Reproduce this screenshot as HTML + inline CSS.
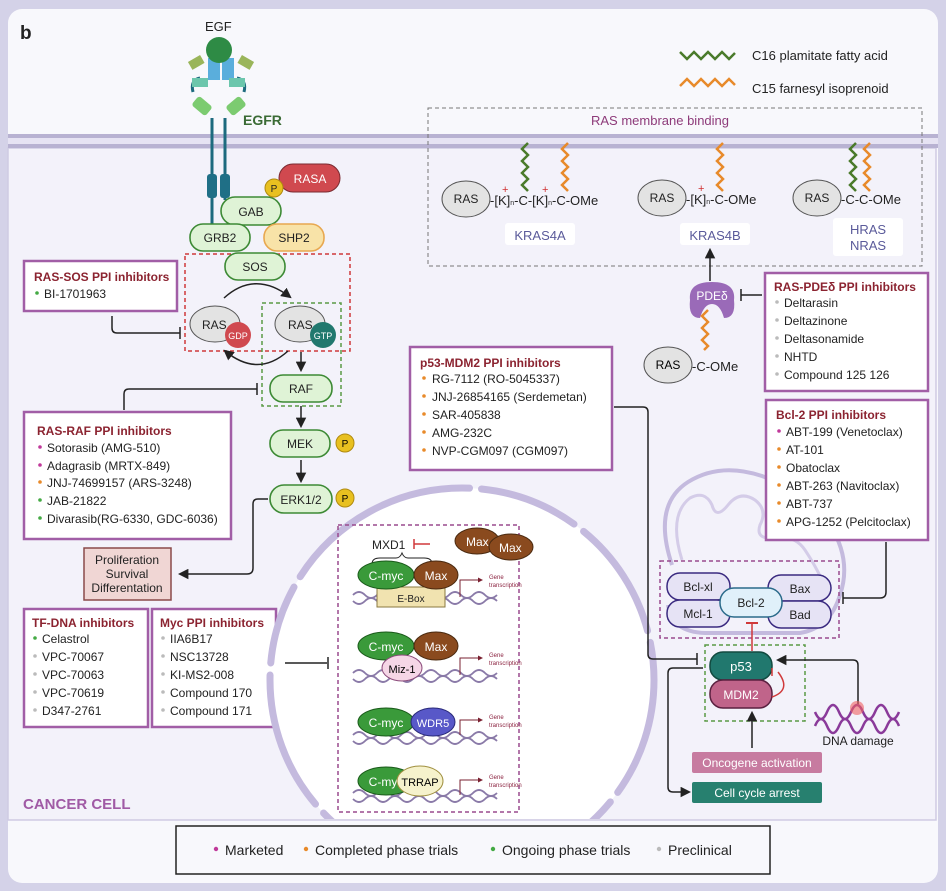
<!DOCTYPE html>
<html><head><meta charset="utf-8"><style>
html,body{margin:0;padding:0;background:#d4d2e8;}
svg{display:block;font-family:"Liberation Sans",sans-serif;}
.t{font-size:12px;fill:#222;}
.h{font-size:12px;font-weight:bold;fill:#8b2330;}
.ib{fill:#fff;stroke:#a15ea6;stroke-width:2.5;}
.pg{fill:#dff3d6;stroke:#3d8a35;stroke-width:1.6;}
.ln{fill:none;stroke:#222;stroke-width:1.5;}
.gt{font-size:6px;fill:#8b2340;}
</style></head><body>
<svg width="946" height="891" viewBox="0 0 946 891" xmlns="http://www.w3.org/2000/svg">
<defs>
<marker id="ar" viewBox="0 0 10 10" refX="8" refY="5" markerWidth="7" markerHeight="7" orient="auto"><path d="M0,0 L10,5 L0,10 z" fill="#222"/></marker>
<marker id="ar2" viewBox="0 0 10 10" refX="8" refY="5" markerWidth="5" markerHeight="5" orient="auto"><path d="M0,0 L10,5 L0,10 z" fill="#7a2030"/></marker>
</defs>
<rect x="0" y="0" width="946" height="891" fill="#d4d2e8"/>
<rect x="8" y="9" width="930" height="874" rx="14" fill="#f8f8fc"/>
<rect x="8" y="148" width="928" height="672" fill="#f3f2fa" stroke="#cfcbe3" stroke-width="1.5"/>
<line x1="8" y1="136" x2="938" y2="136" stroke="#b8b2d2" stroke-width="4"/>
<line x1="8" y1="146" x2="938" y2="146" stroke="#b8b2d2" stroke-width="4"/>
<rect x="8" y="138" width="930" height="6" fill="#e6e3f3"/>
<text x="20" y="39" font-size="19" font-weight="bold" fill="#222">b</text>

<!-- EGF / EGFR -->
<text x="205" y="31" font-size="13" fill="#222">EGF</text>
<path d="M193,92 Q190,80 200,78" stroke="#1d6a7e" stroke-width="3" fill="none"/>
<path d="M244,92 Q247,80 237,78" stroke="#1d6a7e" stroke-width="3" fill="none"/>
<rect x="208" y="58" width="12" height="22" fill="#5aaedc"/><rect x="222" y="58" width="12" height="22" fill="#5aaedc"/>
<rect x="189" y="58" width="14" height="9" fill="#9ab55a" transform="rotate(-30 196 62)"/>
<rect x="239" y="58" width="14" height="9" fill="#9ab55a" transform="rotate(30 246 62)"/>
<rect x="192" y="78" width="16" height="9" fill="#6cc6ac"/><rect x="229" y="78" width="16" height="9" fill="#6cc6ac"/>
<circle cx="219" cy="50" r="13" fill="#2e8b45"/>
<rect x="193" y="100" width="18" height="12" rx="3" fill="#7ccb70" transform="rotate(40 202 106)"/>
<rect x="227" y="100" width="18" height="12" rx="3" fill="#7ccb70" transform="rotate(-40 236 106)"/>
<line x1="212" y1="118" x2="212" y2="224" stroke="#1d6a7e" stroke-width="3"/>
<line x1="225" y1="118" x2="225" y2="200" stroke="#1d6a7e" stroke-width="3"/>
<rect x="207" y="174" width="10" height="24" rx="3" fill="#1f6f86"/><rect x="220" y="174" width="10" height="24" rx="3" fill="#1f6f86"/>
<text x="243" y="125" font-size="14" font-weight="bold" fill="#3b6b35">EGFR</text>

<rect x="279" y="164" width="61" height="28" rx="14" fill="#d0494f" stroke="#7a2a30"/>
<text x="310" y="183" font-size="12" fill="#fff" text-anchor="middle">RASA</text>
<rect x="221" y="197" width="60" height="28" rx="14" class="pg"/><text x="251" y="216" class="t" text-anchor="middle">GAB</text>
<circle cx="274" cy="188" r="9" fill="#e8c020" stroke="#b08a10"/><text x="274" y="192" font-size="10" text-anchor="middle" fill="#222">P</text>
<rect x="190" y="224" width="60" height="27" rx="13" class="pg"/><text x="220" y="242" class="t" text-anchor="middle">GRB2</text>
<rect x="264" y="224" width="60" height="27" rx="13" fill="#f8e3a8" stroke="#e8a850" stroke-width="1.6"/><text x="294" y="242" class="t" text-anchor="middle">SHP2</text>
<rect x="185" y="254" width="165" height="97" fill="none" stroke="#d0393a" stroke-width="1.5" stroke-dasharray="4,3"/>
<rect x="262" y="303" width="79" height="103" fill="none" stroke="#5a9a45" stroke-width="1.5" stroke-dasharray="4,3"/>
<rect x="225" y="253" width="60" height="27" rx="13" class="pg"/><text x="255" y="271" class="t" text-anchor="middle">SOS</text>
<ellipse cx="215" cy="324" rx="25" ry="18" fill="#e3e3e3" stroke="#555"/><text x="202" y="329" class="t">RAS</text>
<circle cx="238" cy="335" r="13" fill="#d0494f"/><text x="238" y="339" font-size="9" fill="#fff" text-anchor="middle">GDP</text>
<ellipse cx="300" cy="324" rx="25" ry="18" fill="#e3e3e3" stroke="#555"/><text x="288" y="329" class="t">RAS</text>
<circle cx="323" cy="335" r="13" fill="#21786e"/><text x="323" y="339" font-size="9" fill="#fff" text-anchor="middle">GTP</text>
<path d="M224,298 Q255,270 290,297" class="ln" marker-end="url(#ar)"/>
<path d="M288,351 Q258,378 225,351" class="ln" marker-end="url(#ar)"/>
<line x1="301" y1="352" x2="301" y2="370" class="ln" stroke-width="1" marker-end="url(#ar)"/>
<rect x="270" y="375" width="62" height="27" rx="13" class="pg"/><text x="301" y="393" class="t" text-anchor="middle">RAF</text>
<line x1="301" y1="406" x2="301" y2="426" class="ln" stroke-width="1" marker-end="url(#ar)"/>
<rect x="270" y="430" width="60" height="27" rx="13" class="pg"/><text x="300" y="448" class="t" text-anchor="middle">MEK</text>
<circle cx="345" cy="443" r="9" fill="#e8c020" stroke="#b08a10"/><text x="345" y="447" font-size="10" text-anchor="middle">P</text>
<line x1="301" y1="460" x2="301" y2="481" class="ln" marker-end="url(#ar)"/>
<rect x="270" y="485" width="62" height="28" rx="14" class="pg"/><text x="301" y="504" class="t" text-anchor="middle">ERK1/2</text>
<circle cx="345" cy="498" r="9" fill="#e8c020" stroke="#b08a10"/><text x="345" y="502" font-size="10" text-anchor="middle">P</text>

<!-- RAS-SOS -->
<rect x="24" y="261" width="153" height="50" class="ib"/>
<text x="34" y="281" class="h">RAS-SOS PPI inhibitors</text>
<circle cx="37" cy="293" r="1.8" fill="#4a4"/><text x="44" y="298" class="t">BI-1701963</text>
<path d="M112,316 V328 Q112,333 117,333 H180" class="ln"/><line x1="180" y1="327" x2="180" y2="339" stroke="#222" stroke-width="1.5"/>
<path d="M124,410 V394 Q124,389 129,389 H257" class="ln"/><line x1="257" y1="383" x2="257" y2="395" stroke="#222" stroke-width="1.5"/>
<!-- RAS-RAF -->
<rect x="24" y="412" width="207" height="127" class="ib"/>
<text x="37" y="435" class="h">RAS-RAF PPI inhibitors</text>
<g class="t">
<circle cx="40" cy="447" r="1.8" fill="#c0399a"/><text x="47" y="452">Sotorasib (AMG-510)</text>
<circle cx="40" cy="465" r="1.8" fill="#c0399a"/><text x="47" y="470">Adagrasib (MRTX-849)</text>
<circle cx="40" cy="482" r="1.8" fill="#e88a2a"/><text x="47" y="487">JNJ-74699157 (ARS-3248)</text>
<circle cx="40" cy="500" r="1.8" fill="#4a4"/><text x="47" y="505">JAB-21822</text>
<circle cx="40" cy="518" r="1.8" fill="#4a4"/><text x="47" y="523">Divarasib(RG-6330, GDC-6036)</text>
</g>
<path d="M268,499 H258 Q253,499 253,504 V568 Q253,574 247,574 H180" class="ln" marker-end="url(#ar)"/>
<rect x="84" y="548" width="87" height="52" fill="#f0d6d4" stroke="#8a4a4a" stroke-width="1.5"/>
<text x="127" y="564" class="t" text-anchor="middle">Proliferation</text>
<text x="127" y="578" class="t" text-anchor="middle">Survival</text>
<text x="127" y="592" class="t" text-anchor="middle">Differentation</text>
<!-- TF-DNA / Myc -->
<rect x="24" y="609" width="124" height="118" class="ib"/>
<text x="32" y="627" class="h">TF-DNA inhibitors</text>
<g class="t">
<circle cx="35" cy="638" r="1.8" fill="#4a4"/><text x="42" y="643">Celastrol</text>
<circle cx="35" cy="656" r="1.8" fill="#bbb"/><text x="42" y="661">VPC-70067</text>
<circle cx="35" cy="674" r="1.8" fill="#bbb"/><text x="42" y="679">VPC-70063</text>
<circle cx="35" cy="692" r="1.8" fill="#bbb"/><text x="42" y="697">VPC-70619</text>
<circle cx="35" cy="710" r="1.8" fill="#bbb"/><text x="42" y="715">D347-2761</text>
</g>
<rect x="152" y="609" width="124" height="118" class="ib"/>
<text x="160" y="627" class="h">Myc PPI inhibitors</text>
<g class="t">
<circle cx="163" cy="638" r="1.8" fill="#bbb"/><text x="170" y="643">IIA6B17</text>
<circle cx="163" cy="656" r="1.8" fill="#bbb"/><text x="170" y="661">NSC13728</text>
<circle cx="163" cy="674" r="1.8" fill="#bbb"/><text x="170" y="679">KI-MS2-008</text>
<circle cx="163" cy="692" r="1.8" fill="#bbb"/><text x="170" y="697">Compound 170</text>
<circle cx="163" cy="710" r="1.8" fill="#bbb"/><text x="170" y="715">Compound 171</text>
</g>
<text x="23" y="809" font-size="15" font-weight="bold" fill="#a05aa5">CANCER CELL</text>

<!-- Nucleus -->
<clipPath id="cc"><rect x="8" y="148" width="928" height="671"/></clipPath>
<g clip-path="url(#cc)">
<circle cx="462" cy="680" r="192" fill="#fff"/>
<circle cx="462" cy="680" r="192" fill="none" stroke="#c4bade" stroke-width="7" stroke-linecap="round" stroke-dasharray="120,12,60,12,150,12,90,12,140,12,80,12,200,12,100,12"/>
</g>
<line x1="285" y1="663" x2="327" y2="663" class="ln"/><line x1="328" y1="657" x2="328" y2="669" stroke="#222" stroke-width="1.5"/>
<rect x="338" y="525" width="181" height="287" fill="none" stroke="#9a4a8e" stroke-width="1.5" stroke-dasharray="4,3"/>
<g id="dna1">
<path d="M353,595 q6,-6 12,0 t12,0 t12,0 t12,0 t12,0 t12,0 t12,0 t12,0 t12,0 t12,0 t12,0 t12,0" fill="none" stroke="#8a7aa8" stroke-width="1.8"/>
<path d="M353,601 q6,6 12,0 t12,0 t12,0 t12,0 t12,0 t12,0 t12,0 t12,0 t12,0 t12,0 t12,0 t12,0" fill="none" stroke="#8a7aa8" stroke-width="1.8"/>
</g>
<use href="#dna1" y="78"/><use href="#dna1" y="140"/><use href="#dna1" y="198"/>
<!-- row1 -->
<text x="372" y="549" class="t">MXD1</text>
<line x1="414" y1="544" x2="430" y2="544" stroke="#d0393a" stroke-width="1.5"/><line x1="414" y1="539" x2="414" y2="549" stroke="#d0393a" stroke-width="1.5"/>
<path d="M372,564 q0,-6 8,-6 h16 q4,0 6,-5 q2,5 6,5 h16 q8,0 8,6" fill="none" stroke="#222"/>
<ellipse cx="477" cy="541" rx="22" ry="13" fill="#8a4a1e" stroke="#4a2a10"/><text x="466" y="546" font-size="12" fill="#fff">Max</text>
<ellipse cx="511" cy="547" rx="22" ry="13" fill="#8a4a1e" stroke="#4a2a10"/><text x="499" y="552" font-size="12" fill="#fff">Max</text>
<rect x="377" y="587" width="68" height="20" fill="#f1e3b0" stroke="#8a7a40"/><text x="411" y="602" font-size="10" text-anchor="middle" fill="#222">E-Box</text>
<ellipse cx="386" cy="575" rx="28" ry="14" fill="#3a9a3a" stroke="#1a5a1a"/><text x="386" y="580" font-size="12" fill="#fff" text-anchor="middle">C-myc</text>
<ellipse cx="436" cy="575" rx="22" ry="14" fill="#8a4a1e" stroke="#4a2a10"/><text x="436" y="580" font-size="12" fill="#fff" text-anchor="middle">Max</text>
<path d="M460,597 V580 H482" fill="none" stroke="#7a2030" stroke-width="1" marker-end="url(#ar2)"/>
<text x="489" y="579" class="gt">Gene</text><text x="489" y="587" class="gt">transcription</text>
<!-- row2 -->
<ellipse cx="386" cy="646" rx="28" ry="14" fill="#3a9a3a" stroke="#1a5a1a"/><text x="386" y="651" font-size="12" fill="#fff" text-anchor="middle">C-myc</text>
<ellipse cx="436" cy="646" rx="22" ry="14" fill="#8a4a1e" stroke="#4a2a10"/><text x="436" y="651" font-size="12" fill="#fff" text-anchor="middle">Max</text>
<ellipse cx="402" cy="668" rx="20" ry="13" fill="#f5d6e6" stroke="#8a4a7a"/><text x="402" y="673" font-size="11" text-anchor="middle">Miz-1</text>
<path d="M460,675 V658 H482" fill="none" stroke="#7a2030" stroke-width="1" marker-end="url(#ar2)"/>
<text x="489" y="657" class="gt">Gene</text><text x="489" y="665" class="gt">transcription</text>
<!-- row3 -->
<ellipse cx="386" cy="722" rx="28" ry="14" fill="#3a9a3a" stroke="#1a5a1a"/><text x="386" y="727" font-size="12" fill="#fff" text-anchor="middle">C-myc</text>
<ellipse cx="433" cy="722" rx="22" ry="14" fill="#5858c8" stroke="#2a2a7a"/><text x="433" y="727" font-size="11" fill="#fff" text-anchor="middle">WDR5</text>
<path d="M460,735 V720 H482" fill="none" stroke="#7a2030" stroke-width="1" marker-end="url(#ar2)"/>
<text x="489" y="719" class="gt">Gene</text><text x="489" y="727" class="gt">transcription</text>
<!-- row4 -->
<ellipse cx="386" cy="781" rx="28" ry="14" fill="#3a9a3a" stroke="#1a5a1a"/><text x="386" y="786" font-size="12" fill="#fff" text-anchor="middle">C-myc</text>
<ellipse cx="420" cy="781" rx="23" ry="15" fill="#f6f2cc" stroke="#a09040"/><text x="420" y="786" font-size="11" text-anchor="middle">TRRAP</text>
<path d="M460,795 V780 H482" fill="none" stroke="#7a2030" stroke-width="1" marker-end="url(#ar2)"/>
<text x="489" y="779" class="gt">Gene</text><text x="489" y="787" class="gt">transcription</text>

<!-- top legend -->
<path d="M680,52 l7,7 l7,-7 l7,7 l7,-7 l7,7 l7,-7 l7,7 l6,-6" fill="none" stroke="#4a7a2a" stroke-width="2.5"/>
<text x="752" y="60" font-size="13" fill="#222">C16 plamitate fatty acid</text>
<path d="M680,86 l7,-7 l7,7 l7,-7 l7,7 l7,-7 l7,7 l7,-7 l6,6" fill="none" stroke="#e88a2a" stroke-width="2.5"/>
<text x="752" y="93" font-size="13" fill="#222">C15 farnesyl isoprenoid</text>

<!-- RAS membrane binding -->
<rect x="428" y="108" width="494" height="158" fill="none" stroke="#777" stroke-dasharray="4,3"/>
<text x="660" y="125" font-size="13" fill="#8e3b7a" text-anchor="middle">RAS membrane binding</text>
<g font-size="12" fill="#222">
<ellipse cx="466" cy="199" rx="24" ry="18" fill="#e3e3e3" stroke="#555"/><text x="466" y="203" text-anchor="middle">RAS</text>
<text x="490" y="205" font-size="13">-[K]<tspan font-size="7">n</tspan>-C-[K]<tspan font-size="7">n</tspan>-C-OMe</text>
<text x="502" y="193" font-size="11" fill="#d03030">+</text><text x="542" y="193" font-size="11" fill="#d03030">+</text>
<path d="M528,143 l-6,6 l6,6 l-6,6 l6,6 l-6,6 l6,6 l-6,6 l6,6" fill="none" stroke="#4a7a2a" stroke-width="2.5"/>
<path d="M568,143 l-6,6 l6,6 l-6,6 l6,6 l-6,6 l6,6 l-6,6 l6,6" fill="none" stroke="#e88a2a" stroke-width="2.5"/>
<rect x="505" y="223" width="70" height="22" rx="3" fill="#fff"/><text x="540" y="240" font-size="13" fill="#5a5a9a" text-anchor="middle">KRAS4A</text>
<ellipse cx="662" cy="198" rx="24" ry="18" fill="#e3e3e3" stroke="#555"/><text x="662" y="202" text-anchor="middle">RAS</text>
<text x="686" y="204" font-size="13">-[K]<tspan font-size="7">n</tspan>-C-OMe</text>
<text x="698" y="192" font-size="11" fill="#d03030">+</text>
<path d="M723,143 l-6,6 l6,6 l-6,6 l6,6 l-6,6 l6,6 l-6,6 l6,6" fill="none" stroke="#e88a2a" stroke-width="2.5"/>
<rect x="680" y="223" width="70" height="22" rx="3" fill="#fff"/><text x="715" y="240" font-size="13" fill="#5a5a9a" text-anchor="middle">KRAS4B</text>
<ellipse cx="817" cy="198" rx="24" ry="18" fill="#e3e3e3" stroke="#555"/><text x="817" y="202" text-anchor="middle">RAS</text>
<text x="841" y="204" font-size="13">-C-C-OMe</text>
<path d="M856,143 l-6,6 l6,6 l-6,6 l6,6 l-6,6 l6,6 l-6,6 l6,6" fill="none" stroke="#4a7a2a" stroke-width="2.5"/>
<path d="M870,143 l-6,6 l6,6 l-6,6 l6,6 l-6,6 l6,6 l-6,6 l6,6" fill="none" stroke="#e88a2a" stroke-width="2.5"/>
<rect x="833" y="218" width="70" height="38" rx="3" fill="#fff"/><text x="868" y="234" font-size="13" fill="#5a5a9a" text-anchor="middle">HRAS</text><text x="868" y="250" font-size="13" fill="#5a5a9a" text-anchor="middle">NRAS</text>
</g>
<line x1="710" y1="281" x2="710" y2="250" class="ln" marker-end="url(#ar)"/>
<path d="M690,300 Q688,282 712,282 Q736,282 734,300 Q736,318 724,318 Q720,304 712,304 Q704,304 700,318 Q688,318 690,300 z" fill="#9a6ab8"/>
<text x="712" y="300" font-size="12" fill="#fff" text-anchor="middle">PDEδ</text>
<path d="M708,310 l-6,6 l6,6 l-6,6 l6,6 l-6,6 l6,6 l-4,4" fill="none" stroke="#e88a2a" stroke-width="2.5"/>
<ellipse cx="668" cy="365" rx="24" ry="18" fill="#e3e3e3" stroke="#555"/><text x="668" y="369" font-size="12" text-anchor="middle">RAS</text>
<text x="692" y="371" font-size="13" fill="#222">-C-OMe</text>
<line x1="741" y1="295" x2="762" y2="295" class="ln"/><line x1="741" y1="289" x2="741" y2="301" stroke="#222" stroke-width="1.5"/>
<rect x="765" y="273" width="163" height="118" class="ib"/>
<text x="774" y="291" class="h">RAS-PDEδ PPI inhibitors</text>
<g class="t">
<circle cx="777" cy="302" r="1.8" fill="#bbb"/><text x="784" y="307">Deltarasin</text>
<circle cx="777" cy="320" r="1.8" fill="#bbb"/><text x="784" y="325">Deltazinone</text>
<circle cx="777" cy="338" r="1.8" fill="#bbb"/><text x="784" y="343">Deltasonamide</text>
<circle cx="777" cy="356" r="1.8" fill="#bbb"/><text x="784" y="361">NHTD</text>
<circle cx="777" cy="374" r="1.8" fill="#bbb"/><text x="784" y="379">Compound 125 126</text>
</g>
<!-- p53-MDM2 box -->
<rect x="410" y="347" width="202" height="123" class="ib"/>
<text x="420" y="367" class="h">p53-MDM2 PPI inhibitors</text>
<g class="t">
<circle cx="424" cy="378" r="1.8" fill="#e88a2a"/><text x="432" y="383">RG-7112 (RO-5045337)</text>
<circle cx="424" cy="396" r="1.8" fill="#e88a2a"/><text x="432" y="401">JNJ-26854165 (Serdemetan)</text>
<circle cx="424" cy="414" r="1.8" fill="#e88a2a"/><text x="432" y="419">SAR-405838</text>
<circle cx="424" cy="432" r="1.8" fill="#e88a2a"/><text x="432" y="437">AMG-232C</text>
<circle cx="424" cy="450" r="1.8" fill="#e88a2a"/><text x="432" y="455">NVP-CGM097 (CGM097)</text>
</g>
<path d="M614,407 H643 Q648,407 648,412 V654 Q648,659 653,659 H697" class="ln"/><line x1="697" y1="653" x2="697" y2="665" stroke="#222" stroke-width="1.5"/>
<!-- mitochondria -->
<path d="M672,565 Q652,505 688,482 Q720,462 762,476 Q805,492 830,525 Q852,560 840,595 Q830,628 800,633 H705 Q672,632 668,605" fill="none" stroke="#c4bade" stroke-width="4"/>
<path d="M682,560 Q668,515 690,498 Q705,490 712,505 Q716,520 728,505 Q740,490 755,500 Q768,510 760,525 Q755,540 775,538 Q795,535 805,550 Q815,565 822,580" fill="none" stroke="#d4cce8" stroke-width="3"/>
<!-- Bcl-2 box -->
<rect x="766" y="400" width="162" height="140" class="ib"/>
<text x="776" y="419" class="h">Bcl-2 PPI inhibitors</text>
<g class="t">
<circle cx="779" cy="431" r="1.8" fill="#c0399a"/><text x="786" y="436">ABT-199 (Venetoclax)</text>
<circle cx="779" cy="449" r="1.8" fill="#e88a2a"/><text x="786" y="454">AT-101</text>
<circle cx="779" cy="467" r="1.8" fill="#e88a2a"/><text x="786" y="472">Obatoclax</text>
<circle cx="779" cy="485" r="1.8" fill="#e88a2a"/><text x="786" y="490">ABT-263 (Navitoclax)</text>
<circle cx="779" cy="503" r="1.8" fill="#e88a2a"/><text x="786" y="508">ABT-737</text>
<circle cx="779" cy="521" r="1.8" fill="#e88a2a"/><text x="786" y="526">APG-1252 (Pelcitoclax)</text>
</g>
<path d="M886,542 V592 Q886,598 880,598 H843" class="ln"/><line x1="843" y1="592" x2="843" y2="604" stroke="#222" stroke-width="1.5"/>
<rect x="660" y="561" width="179" height="77" fill="none" stroke="#9a4a8e" stroke-width="1.5" stroke-dasharray="4,3"/>
<g font-size="12" fill="#222">
<rect x="667" y="573" width="63" height="27" rx="13" fill="#e6e3f5" stroke="#3a2a80" stroke-width="1.5"/><text x="698" y="591" text-anchor="middle">Bcl-xl</text>
<rect x="667" y="600" width="63" height="27" rx="13" fill="#e6e3f5" stroke="#3a2a80" stroke-width="1.5"/><text x="698" y="618" text-anchor="middle">Mcl-1</text>
<rect x="768" y="575" width="63" height="26" rx="13" fill="#e6e3f5" stroke="#3a2a80" stroke-width="1.5"/><text x="800" y="593" text-anchor="middle">Bax</text>
<rect x="768" y="601" width="63" height="27" rx="13" fill="#e6e3f5" stroke="#3a2a80" stroke-width="1.5"/><text x="800" y="619" text-anchor="middle">Bad</text>
<rect x="720" y="588" width="62" height="29" rx="14" fill="#e0f0fa" stroke="#2a6a8a" stroke-width="1.5"/><text x="751" y="607" text-anchor="middle">Bcl-2</text>
</g>
<line x1="752" y1="651" x2="752" y2="623" stroke="#d0393a" stroke-width="1.5"/><line x1="746" y1="623" x2="758" y2="623" stroke="#d0393a" stroke-width="2"/>
<rect x="705" y="645" width="100" height="76" fill="none" stroke="#5a9a45" stroke-width="1.5" stroke-dasharray="4,3"/>
<rect x="710" y="652" width="62" height="28" rx="13" fill="#21786e" stroke="#124a40" stroke-width="1.5"/><text x="741" y="671" font-size="13" fill="#fff" text-anchor="middle">p53</text>
<rect x="710" y="680" width="62" height="28" rx="13" fill="#c0648a" stroke="#5a2040" stroke-width="1.5"/><text x="741" y="699" font-size="12" fill="#fff" text-anchor="middle">MDM2</text>
<path d="M772,697 Q792,690 778,672" fill="none" stroke="#d0393a" stroke-width="1.5"/><line x1="772" y1="668" x2="772" y2="676" stroke="#d0393a" stroke-width="1.5"/>
<path d="M858,705 V665 Q858,660 853,660 H778" class="ln" marker-end="url(#ar)"/>
<path d="M815,712 q6,14 12,0 t12,0 t12,0 t12,0 t12,0 t12,0 t12,0" fill="none" stroke="#8a3a9a" stroke-width="2.5"/>
<path d="M815,726 q6,-14 12,0 t12,0 t12,0 t12,0 t12,0 t12,0 t12,0" fill="none" stroke="#8a3a9a" stroke-width="2.5"/>
<circle cx="857" cy="708" r="7" fill="#f06060" opacity="0.6"/>
<text x="858" y="745" font-size="12" fill="#222" text-anchor="middle">DNA damage</text>
<line x1="752" y1="748" x2="752" y2="713" class="ln" marker-end="url(#ar)"/>
<rect x="692" y="752" width="130" height="21" rx="2" fill="#c77ba0"/><text x="757" y="767" font-size="12" fill="#fff" text-anchor="middle">Oncogene activation</text>
<rect x="692" y="782" width="130" height="21" rx="2" fill="#27806f"/><text x="757" y="797" font-size="12" fill="#fff" text-anchor="middle">Cell cycle arrest</text>
<path d="M703,668 H673 Q668,668 668,673 V787 Q668,792 673,792 H689" class="ln" marker-end="url(#ar)"/>

<!-- bottom legend -->
<rect x="176" y="826" width="594" height="48" fill="#f8f8fc" stroke="#222" stroke-width="1.5"/>
<g font-size="14" fill="#222">
<circle cx="216" cy="849" r="2.2" fill="#c0399a"/><text x="225" y="855">Marketed</text>
<circle cx="306" cy="849" r="2.2" fill="#e88a2a"/><text x="315" y="855">Completed phase trials</text>
<circle cx="493" cy="849" r="2.2" fill="#4a4"/><text x="502" y="855">Ongoing phase trials</text>
<circle cx="659" cy="849" r="2.2" fill="#bbb"/><text x="668" y="855">Preclinical</text>
</g>
</svg>
</body></html>
